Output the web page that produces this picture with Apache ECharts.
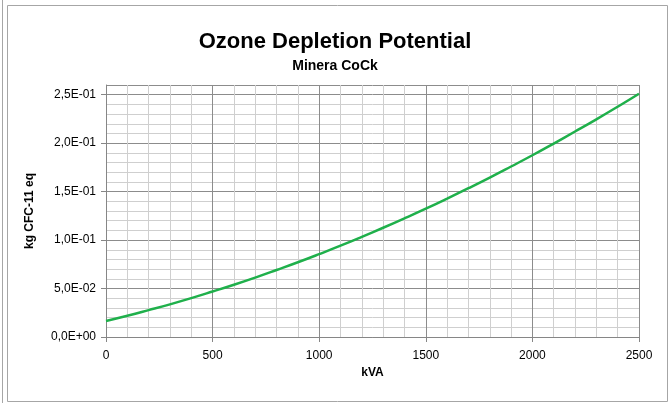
<!DOCTYPE html>
<html>
<head>
<meta charset="utf-8">
<script src="https://cdn.jsdelivr.net/npm/echarts@6/dist/echarts.min.js"></script>
<style>
  html, body { margin: 0; padding: 0; background: #fff; }
  #chart { width: 670px; height: 403px; }
</style>
</head>
<body>
<div id="chart"></div>
<script>
// kVA values along the x axis
var kva = [0, 100, 200, 300, 400, 500, 600, 700, 800, 900, 1000, 1100, 1200,
    1300, 1400, 1500, 1600, 1700, 1800, 1900, 2000, 2100, 2200, 2300, 2400, 2500];
// kg CFC-11 eq
var odp = [0.0165, 0.0219, 0.0277, 0.0337, 0.0401, 0.0469, 0.0539, 0.0613, 0.0691,
    0.0771, 0.0855, 0.0942, 0.1033, 0.1127, 0.1224, 0.1324, 0.1428, 0.1535,
    0.1645, 0.1759, 0.1875, 0.1996, 0.2120, 0.2246, 0.2376, 0.2510];

var points = [];
for (var i = 0; i < kva.length; i++) {
    points.push([kva[i], odp[i]]);
}

// 0.05 -> "5,0E-02"
function sci(v) {
    if (v === 0) return '0,0E+00';
    var s = v.toExponential(1).split('e');
    var e = parseInt(s[1], 10);
    var es = (e < 0 ? '-' : '+') + (Math.abs(e) < 10 ? '0' : '') + Math.abs(e);
    return s[0].replace('.', ',') + 'E' + es;
}

var font = '"Liberation Sans", sans-serif';
var chart = echarts.init(document.getElementById('chart'));

var option = {
    animation: false,
    title: [{
        text: 'Ozone Depletion Potential',
        left: 'center',
        top: 26,
        textStyle: { fontFamily: font, fontSize: 22, fontWeight: 'bold', color: '#000' }
    }, {
        text: 'Minera CoCk',
        left: 'center',
        top: 54,
        textStyle: { fontFamily: font, fontSize: 14, fontWeight: 'bold', color: '#000' }
    }],
    graphic: [{
        type: 'rect',
        shape: { x: 7.5, y: 5.5, width: 660, height: 396 },
        style: { fill: 'none', stroke: '#a6a6a6', lineWidth: 1 },
        silent: true
    }, {
        type: 'line',
        shape: { x1: 2.5, y1: 0, x2: 2.5, y2: 403 },
        style: { stroke: '#a6a6a6', lineWidth: 1 },
        silent: true
    }],
    grid: { left: 106, right: 31, top: 85, bottom: 66 },
    xAxis: {
        type: 'value',
        min: 0,
        max: 2500,
        interval: 500,
        name: 'kVA',
        nameLocation: 'middle',
        nameGap: 30,
        nameTextStyle: { fontFamily: font, fontSize: 12, fontWeight: 'bold', color: '#000' },
        axisLine: { show: true, lineStyle: { color: '#868686' } },
        axisTick: { show: true, length: 5, lineStyle: { color: '#868686' } },
        axisLabel: {
            fontFamily: font, fontSize: 12, color: '#000', margin: 13,
            formatter: function (v) { return String(v); }
        },
        splitLine: { show: true, lineStyle: { color: '#8c8c8c' } },
        minorTick: { show: false, splitNumber: 5 },
        minorSplitLine: { show: true, lineStyle: { color: '#cfcfcf' } }
    },
    yAxis: {
        type: 'value',
        min: 0,
        max: 0.26,
        interval: 0.05,
        name: 'kg CFC-11 eq',
        nameLocation: 'middle',
        nameGap: 70,
        nameTextStyle: { fontFamily: font, fontSize: 12, fontWeight: 'bold', color: '#000' },
        axisLine: { show: true, lineStyle: { color: '#868686' } },
        axisTick: { show: true, length: 5, lineStyle: { color: '#868686' } },
        axisLabel: {
            fontFamily: font, fontSize: 12, color: '#000', margin: 10,
            showMaxLabel: false,
            formatter: function (v) { return sci(v); }
        },
        splitLine: { show: true, lineStyle: { color: '#8c8c8c' } },
        minorTick: { show: false, splitNumber: 5 },
        minorSplitLine: { show: true, lineStyle: { color: '#cfcfcf' } }
    },
    series: [{
        type: 'line',
        data: points,
        smooth: true,
        symbol: 'none',
        lineStyle: { color: '#1fb04b', width: 2.5 }
    }]
};

chart.setOption(option);
</script>
</body>
</html>
